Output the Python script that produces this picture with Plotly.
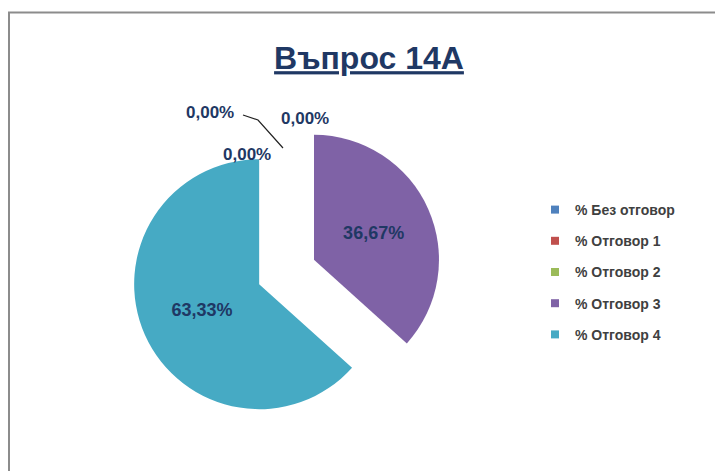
import plotly.graph_objects as go

labels = ["% Без отговор", "% Отговор 1", "% Отговор 2", "% Отговор 3", "% Отговор 4"]
values = [0.0, 0.0, 0.0, 36.67, 63.33]
colors = ["#4F81BD", "#C0504D", "#9BBB59", "#7F62A6", "#46AAC4"]
title_text = "Въпрос 14A"

def fmt(v):
    return ("%.2f" % v).replace(".", ",") + "%"

# page has an 8px body margin; figure sized to fill the rest of the window
OFF = 8
W, H = 715, 463

def px(x):
    return (x - OFF) / W

def py(y):
    return 1 - (y - OFF) / H

fig = go.Figure()

R = 125
PULL = [0, 0, 0, 0.28, 0.2]
half = R * (1 + max(PULL))
cx, cy = 282, 274
texts = [fmt(v) if v > 0 else "" for v in values]
fig.add_trace(go.Pie(
    labels=labels, values=values, sort=False, direction="clockwise", rotation=0,
    marker=dict(colors=colors, line=dict(width=0)),
    pull=PULL,
    text=texts, textinfo="text", textposition="inside",
    insidetextorientation="horizontal",
    textfont=dict(family="Liberation Sans", size=18, color="#1F3864", weight="bold"),
    domain=dict(x=[px(cx - half), px(cx + half)], y=[py(cy + half), py(cy - half)]),
    showlegend=False, hoverinfo="label+percent",
))

# legend entries
for lab, col in zip(labels, colors):
    fig.add_trace(go.Scatter(x=[None], y=[None], mode="markers", name=lab,
                             legendgroup=lab,
                             marker=dict(symbol="square", size=8, color=col)))

# labels for zero-valued slices
zero_pos = [(210, 112), (305, 119), (247, 154)]
for (ax, ay), v in zip(zero_pos, values[:3]):
    fig.add_annotation(x=px(ax), y=py(ay), xref="paper", yref="paper",
                       xanchor="center", yanchor="middle",
                       text="<b>" + fmt(v) + "</b>", showarrow=False,
                       font=dict(family="Liberation Sans", size=17, color="#1F3864"))
fig.add_shape(type="path", xref="paper", yref="paper",
              path="M %f,%f L %f,%f L %f,%f" % (px(243), py(115), px(258), py(120),
                                                 px(283), py(148)),
              line=dict(color="#222222", width=1.2))

# chart border
fig.add_shape(type="rect", xref="paper", yref="paper",
              x0=px(9), x1=px(717), y0=-0.05, y1=py(12.5),
              line=dict(color="#8C8C8C", width=2), layer="above")

fig.update_layout(
    width=W, height=H,
    margin=dict(l=0, r=0, t=0, b=0),
    paper_bgcolor="white", plot_bgcolor="white",
    separators=",.",
    title=dict(text="<b>" + title_text + "</b>", x=px(369), xanchor="center",
               y=py(58), yanchor="middle", yref="container",
               font=dict(family="Liberation Sans", size=32, color="#1F3864",
                         lineposition="under")),
    xaxis=dict(visible=False), yaxis=dict(visible=False),
    legend=dict(x=px(535), y=py(194), xanchor="left", yanchor="top",
                tracegroupgap=10, itemclick=False,
                font=dict(family="Liberation Sans", size=14, color="#404040",
                          weight="bold")),
)
fig.write_html("out.html")
